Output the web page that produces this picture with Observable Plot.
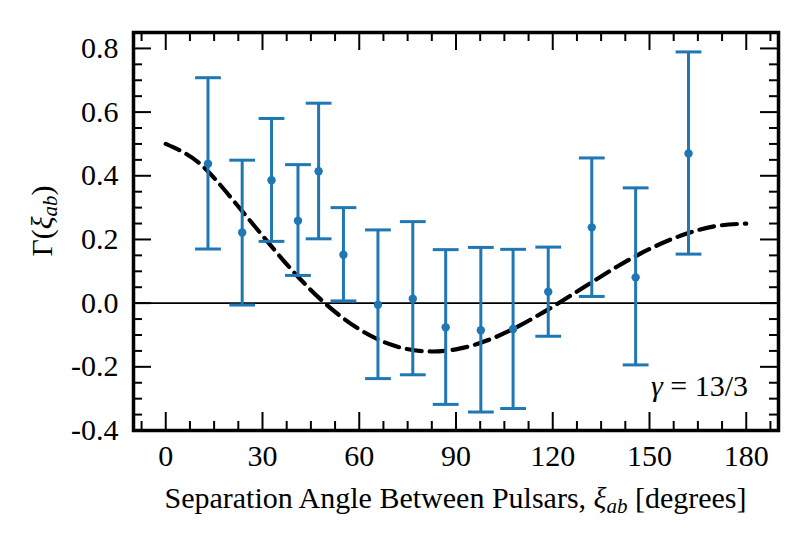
<!DOCTYPE html>
<html><head><meta charset="utf-8">
<script src="https://cdn.jsdelivr.net/npm/d3@7"></script>
<script src="https://cdn.jsdelivr.net/npm/@observablehq/plot@0.6"></script>
<style>
html,body{margin:0;padding:0;background:#fff;font-family:"Liberation Serif",Tinos,"Times New Roman",Times,serif;}
</style>
</head><body><div id="chart"></div>
<script>
// Measured points (angle in degrees, correlation, error bar ends)
const angles      = [13.1, 23.7, 32.8, 41.0, 47.4, 55.1, 65.8, 76.6, 86.8, 97.7, 107.7, 118.6, 132.1, 145.7, 162.1];
const gammaValues = [0.438, 0.222, 0.386, 0.259, 0.414, 0.152, -0.005, 0.014, -0.076, -0.085, -0.081, 0.036, 0.238, 0.081, 0.470];
const upperValues = [0.708, 0.449, 0.580, 0.435, 0.628, 0.300, 0.230, 0.256, 0.168, 0.175, 0.169, 0.176, 0.456, 0.362, 0.789];
const lowerValues = [0.170, -0.006, 0.194, 0.087, 0.202, 0.007, -0.237, -0.225, -0.318, -0.342, -0.331, -0.104, 0.021, -0.194, 0.154];

// Dashed reference curve
const curveAngles = [0, 10, 20, 30, 40, 50, 60, 70, 80, 90, 100, 110, 120, 130, 140, 150, 160, 170, 180];
const curveValues = [0.500, 0.443, 0.334, 0.212, 0.094, -0.006, -0.082, -0.131, -0.151, -0.145, -0.116, -0.069, -0.011, 0.052, 0.115, 0.170, 0.213, 0.241, 0.250];

// Ticks
const xTicks = [0, 30, 60, 90, 120, 150, 180];
const yTicks = [-0.4, -0.2, 0.0, 0.2, 0.4, 0.6, 0.8];
const xMinor = [-7.5, 7.5, 15, 22.5, 37.5, 45, 52.5, 67.5, 75, 82.5, 97.5, 105, 112.5, 127.5, 135, 142.5, 157.5, 165, 172.5, 187.5];
const yMinor = [-0.35, -0.3, -0.25, -0.15, -0.1, -0.05, 0.05, 0.1, 0.15, 0.25, 0.3, 0.35, 0.45, 0.5, 0.55, 0.65, 0.7, 0.75];

const xLabel = "Separation Angle Between Pulsars, ";
const gammaText = "13/3";

const points = angles.map((a, i) => ({x: a, y: gammaValues[i], hi: upperValues[i], lo: lowerValues[i]}));
const curve = curveAngles.map((a, i) => ({x: a, y: curveValues[i]}));

const W = 800, H = 545;
const mL = 133, mR = 22, mT = 32, mB = 115;
const innerW = W - mL - mR, innerH = H - mT - mB;
const majorLen = 18, minorLen = 9;
const blue = "#1f77b4";
const capHalf = 4; // degrees
const FONT = "Liberation Serif";
const STACK = "'Liberation Serif', Tinos, 'Times New Roman', Times, serif";
const FS = 30;

const plot = Plot.plot({
  width: W, height: H,
  marginLeft: mL, marginRight: mR, marginTop: mT, marginBottom: mB,
  x: {domain: [-10, 190], ticks: xTicks, tickSize: 0, tickPadding: 14, label: null, tickFormat: d => String(d)},
  y: {domain: [-0.4, 0.85], ticks: yTicks, tickSize: 0, tickPadding: 15, label: null, tickFormat: d => d.toFixed(1)},
  marks: [
    Plot.ruleY([0], {stroke: "black", strokeWidth: 1.6}),
    Plot.line(curve, {x: "x", y: "y", stroke: "black", strokeWidth: 4.2, strokeDasharray: "15,8", curve: "natural"}),
    Plot.ruleX(points, {x: "x", y1: "lo", y2: "hi", stroke: blue, strokeWidth: 3}),
    Plot.link(points, {x1: d => d.x - capHalf, x2: d => d.x + capHalf, y1: "hi", y2: "hi", stroke: blue, strokeWidth: 3}),
    Plot.link(points, {x1: d => d.x - capHalf, x2: d => d.x + capHalf, y1: "lo", y2: "lo", stroke: blue, strokeWidth: 3}),
    Plot.dot(points, {x: "x", y: "y", r: 4.2, fill: blue}),
    // inward ticks on all four sides
    Plot.tickX(xTicks, {x: d => d, insetTop: innerH - majorLen, stroke: "black", strokeWidth: 2}),
    Plot.tickX(xTicks, {x: d => d, insetBottom: innerH - majorLen, stroke: "black", strokeWidth: 2}),
    Plot.tickX(xMinor, {x: d => d, insetTop: innerH - minorLen, stroke: "black", strokeWidth: 2}),
    Plot.tickX(xMinor, {x: d => d, insetBottom: innerH - minorLen, stroke: "black", strokeWidth: 2}),
    Plot.tickY(yTicks, {y: d => d, insetRight: innerW - majorLen, stroke: "black", strokeWidth: 2}),
    Plot.tickY(yTicks, {y: d => d, insetLeft: innerW - majorLen, stroke: "black", strokeWidth: 2}),
    Plot.tickY(yMinor, {y: d => d, insetRight: innerW - minorLen, stroke: "black", strokeWidth: 2}),
    Plot.tickY(yMinor, {y: d => d, insetLeft: innerW - minorLen, stroke: "black", strokeWidth: 2}),
    Plot.frame({stroke: "black", strokeWidth: 3.5})
  ]
});

document.getElementById("chart").appendChild(plot);

const svg = d3.select(plot);
svg.selectAll("g").attr("font-family", FONT);
svg.selectAll("text")
  .attr("font-family", FONT).attr("font-size", FS)
  .attr("style", `font-family: ${STACK}; font-size: ${FS}px;`);

function addSpan(parent, str, opts = {}) {
  const t = parent.append("tspan").text(str).attr("font-family", FONT);
  let css = `font-family: ${STACK};`;
  if (opts.italic) { t.attr("font-style", "italic"); css += " font-style: italic;"; }
  if (opts.size) { t.attr("font-size", opts.size); css += ` font-size: ${opts.size}px;`; }
  if (opts.dy) t.attr("dy", opts.dy);
  t.attr("style", css);
  return t;
}
function addLabel() {
  return svg.append("text")
    .attr("font-family", FONT).attr("font-size", FS)
    .attr("style", `font-family: ${STACK}; font-size: ${FS}px;`);
}

// x axis label
const xl = addLabel().attr("x", mL + innerW / 2).attr("y", 508).attr("text-anchor", "middle");
addSpan(xl, xLabel);
addSpan(xl, "ξ", {italic: true});
addSpan(xl, "ab", {italic: true, size: 21, dy: 5});
addSpan(xl, " [degrees]", {dy: -5});

// y axis label
const yl = addLabel().attr("transform", `translate(52,${mT + innerH / 2 - 10}) rotate(-90)`).attr("text-anchor", "middle");
addSpan(yl, "Γ(");
addSpan(yl, "ξ", {italic: true});
addSpan(yl, "ab", {italic: true, size: 21, dy: 5});
addSpan(yl, ")", {dy: -5});

// gamma annotation
const gl = addLabel().attr("x", 748).attr("y", 396).attr("text-anchor", "end");
addSpan(gl, "γ", {italic: true});
addSpan(gl, " = " + gammaText);
</script>
</body></html>
